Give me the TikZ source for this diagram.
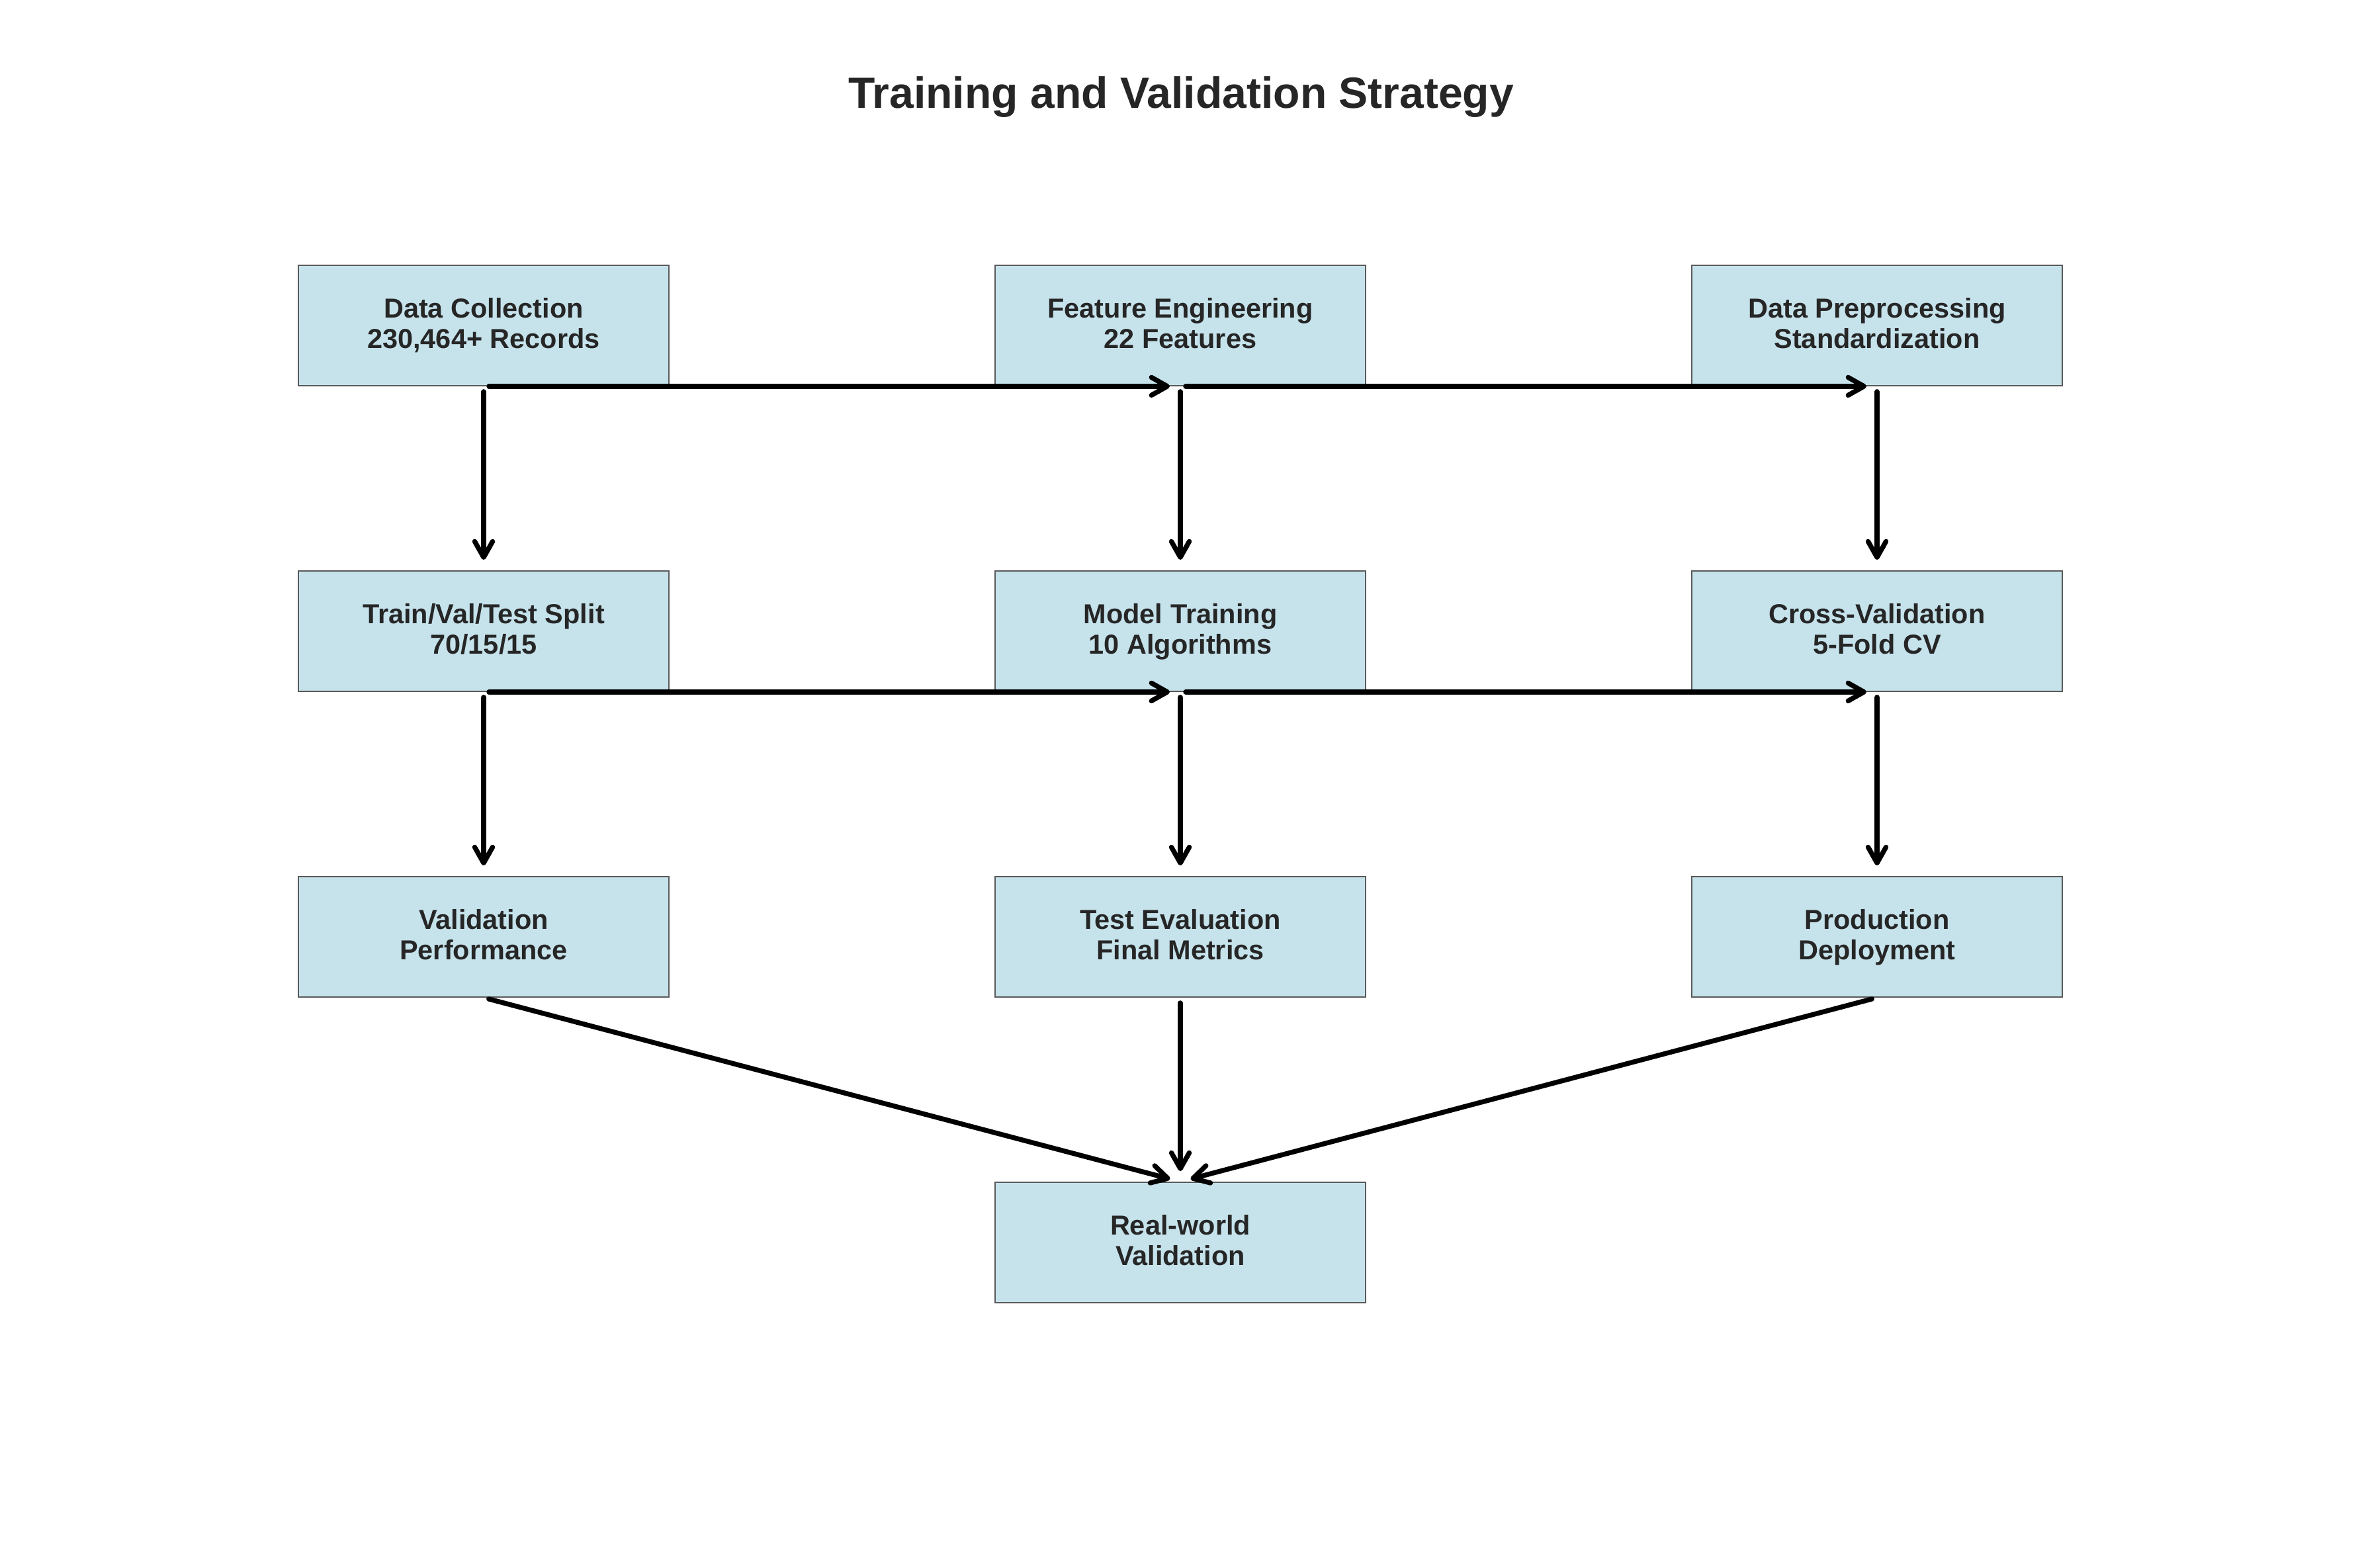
\documentclass[tikz,border=0pt]{standalone}
\usepackage{fontspec}
\setmainfont{Liberation Sans}
\usepackage{xcolor}
\usetikzlibrary{arrows.meta,positioning}
\definecolor{boxfill}{HTML}{C6E3EC}
\definecolor{boxline}{HTML}{5A5A5A}
\definecolor{txt}{HTML}{262626}

\begin{document}
\begin{tikzpicture}
	\tikzset{box/.style = {rectangle, draw = boxline, line width = 0.5pt, fill = boxfill,
		minimum width = 5.6cm, minimum height = 1.82cm, align = center, text = txt,
		text height = 21.6pt, text depth = 1.9pt,
		font = \fontsize{11.8}{13}\selectfont\bfseries},
		flow/.style = {line width = 2.1pt, line cap = round,
		-{Straight Barb[length=2.4mm,width=2.7mm,round]},
		shorten <= 0.8mm, shorten >= 1.6mm}}
\useasboundingbox (0,0) rectangle (35.7,-23.7);
\node[text = txt, font = \fontsize{18.8}{22}\selectfont\bfseries] (t) at (17.85,-1.47) {Training and Validation Strategy};
\node[box] (1) at (7.31, -4.92) {Data Collection\\230,464+ Records};
\node[box] (2) at (17.84, -4.92) {Feature Engineering\\22 Features};
\node[box] (3) at (28.37, -4.92) {Data Preprocessing\\Standardization};
\node[box] (4) at (7.31, -9.54) {Train/Val/Test Split\\70/15/15};
\node[box] (5) at (17.84, -9.54) {Model Training\\10 Algorithms};
\node[box] (6) at (28.37, -9.54) {Cross-Validation\\5-Fold CV};
\node[box] (7) at (7.31, -14.16) {Validation\\Performance};
\node[box] (8) at (17.84, -14.16) {Test Evaluation\\Final Metrics};
\node[box] (9) at (28.37, -14.16) {Production\\Deployment};
\node[box] (10) at (17.84, -18.78) {Real-world\\Validation};
	\path[draw][flow] (1.south) -- (2.south);
	\path[draw][flow] (2.south) -- (3.south);
	\path[draw][flow] (1.south) -- (4.north);
	\path[draw][flow] (2.south) -- (5.north);
	\path[draw][flow] (3.south) -- (6.north);
	\path[draw][flow] (4.south) -- (5.south);
	\path[draw][flow] (5.south) -- (6.south);
	\path[draw][flow] (4.south) -- (7.north);
	\path[draw][flow] (5.south) -- (8.north);
	\path[draw][flow] (6.south) -- (9.north);
	\path[draw][flow] (7.south) -- (10.north);
	\path[draw][flow] (8.south) -- (10.north);
	\path[draw][flow] (9.south) -- (10.north);
\end{tikzpicture}
\end{document}
